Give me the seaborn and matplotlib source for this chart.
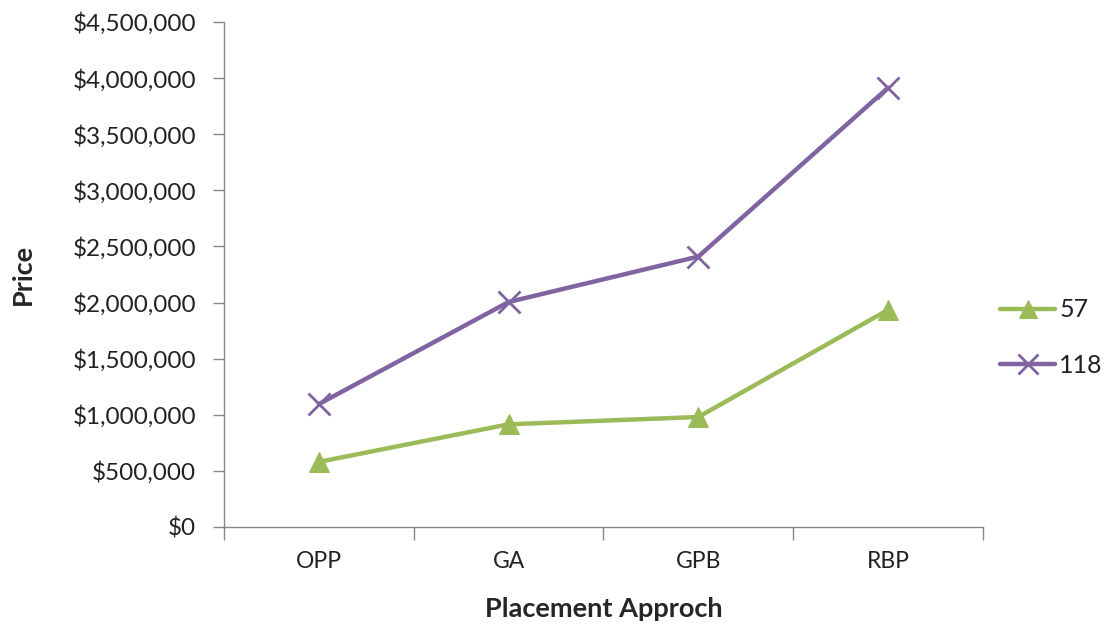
import pandas as pd
import matplotlib.pyplot as plt
import seaborn as sns
from matplotlib.ticker import FuncFormatter, FixedLocator

# data
approaches = ["OPP", "GA", "GPB", "RBP"]
price_57 = [580000, 915000, 980000, 1935000]
price_118 = [1095000, 2005000, 2410000, 3915000]
series = ["57", "118"]

df57 = pd.DataFrame({"approach": approaches, "price": price_57})
df118 = pd.DataFrame({"approach": approaches, "price": price_118})

sns.set_style("white")
plt.rcParams["font.family"] = ["Lato", "DejaVu Sans"]

fig = plt.figure(figsize=(11.16, 6.29), dpi=100)
ax = fig.add_axes([0.2007, 0.1622, 0.6801, 0.8028])

# two series drawn separately (filled triangle vs line-art cross)
sns.lineplot(data=df57, x="approach", y="price", color="#9BBB59", marker="^",
             markersize=15, markeredgecolor="#9BBB59", linewidth=3.2,
             label=series[0], sort=False, ax=ax)
sns.lineplot(data=df118, x="approach", y="price", color="#8064A2", marker="x",
             markersize=16, markeredgewidth=2, markeredgecolor="#8064A2",
             linewidth=3.2, label=series[1], sort=False, ax=ax)

ax.set_xlim(-0.5, 3.5)
ax.set_ylim(0, 4500000)
ax.set_yticks(range(0, 4500001, 500000))
ax.yaxis.set_major_formatter(FuncFormatter(lambda v, p: f"${int(v):,}"))

# category separators as x ticks
ax.xaxis.set_major_locator(FixedLocator([0, 1, 2, 3]))
ax.xaxis.set_minor_locator(FixedLocator([-0.5, 0.5, 1.5, 2.5, 3.5]))
ax.tick_params(axis="x", which="major", length=0, pad=17, labelsize=16.5, labelcolor="#222222")
ax.tick_params(axis="x", which="minor", length=9, width=1, color="#868686", direction="out", bottom=True)
ax.tick_params(axis="y", length=8, width=1, color="#868686", direction="out",
               labelsize=17.5, pad=12, left=True, labelcolor="#222222")

for side in ["top", "right"]:
    ax.spines[side].set_visible(False)
for side in ["left", "bottom"]:
    ax.spines[side].set_color("#868686")
    ax.spines[side].set_linewidth(1)

ax.set_xlabel("Placement Approch", fontsize=19.5, fontweight="bold", labelpad=18)
ax.set_ylabel("Price", fontsize=19.5, fontweight="bold", labelpad=27)

leg = ax.legend(loc="center left", bbox_to_anchor=(1.0, 0.375), frameon=False,
                fontsize=18, handlelength=2.2, handletextpad=0.15, labelspacing=1.3,
                borderpad=0.2, borderaxespad=0.5, markerscale=0.9)
for t in leg.get_texts():
    t.set_color("#222222")

plt.savefig("out.png", dpi=100)
